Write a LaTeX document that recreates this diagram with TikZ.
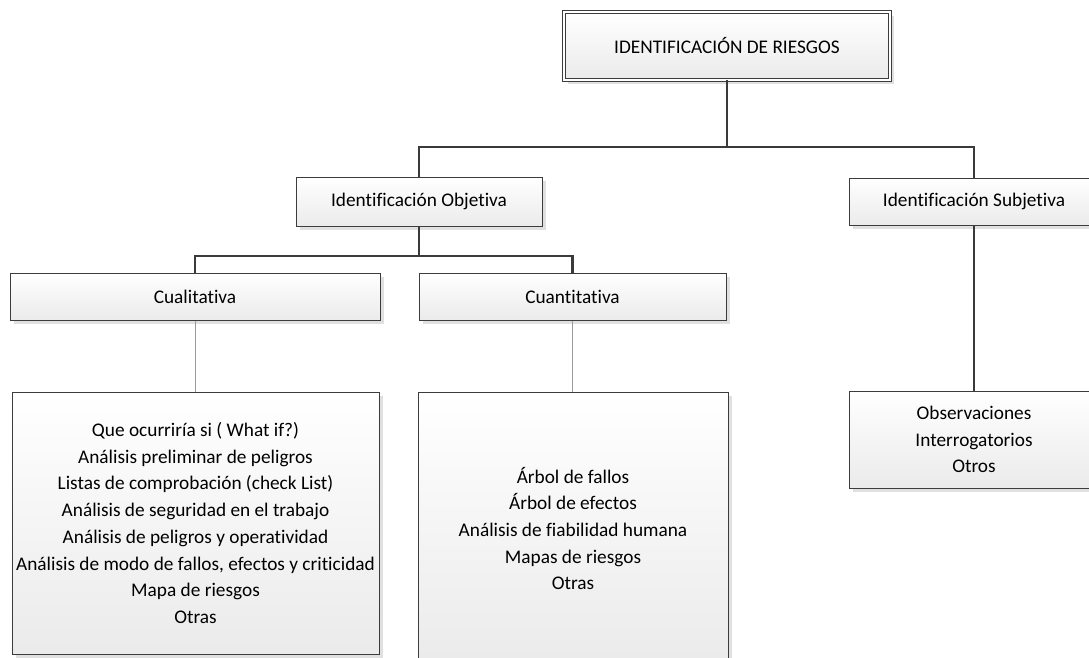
\documentclass[tikz,border=0pt]{standalone}
\usepackage{fontspec}
\setmainfont{Carlito}[Ligatures=NoCommon]
\usetikzlibrary{shadows}
\definecolor{bordc}{HTML}{3C3C3C}
\definecolor{connc}{HTML}{3A3A3A}
\definecolor{thinc}{HTML}{9A9A9A}
\begin{document}
\begin{tikzpicture}[x=1pt,y=1pt,
  box/.style={draw=bordc, line width=1pt, top color=white, bottom color=black!8,
    drop shadow={shadow xshift=4pt, shadow yshift=-4pt, fill=black!12, opacity=1},
    inner sep=0pt, align=center, font=\fontsize{19.3}{26.7}\selectfont},
  conn/.style={draw=connc, line width=2.3pt},
  thin/.style={draw=thinc, line width=1pt}]
\useasboundingbox (0,0) rectangle (1089,-657);
\clip (0,0) rectangle (1089,-657);
\fill[white] (0,0) rectangle (1089,-657);
% nodes
\node[box, double=white, double distance=2pt, line width=0.9pt, minimum width=326, minimum height=68] (root) at (727,-46) {IDENTIFICACIÓN DE RIESGOS};
\node[box, minimum width=246, minimum height=49] (obj) at (419,-201.5) {Identificación Objetiva};
\node[box, minimum width=250, minimum height=47] (subj) at (974,-201.5) {Identificación Subjetiva};
\node[box, minimum width=370, minimum height=47] (cual) at (195,-296.5) {Cualitativa};
\node[box, minimum width=307, minimum height=47] (cuan) at (572.5,-296.5) {Cuantitativa};
\node[box, minimum width=367, minimum height=262] (cualD) at (195.5,-523) {Que ocurriría si ( What if?)\\Análisis preliminar de peligros\\Listas de comprobación (check List)\\Análisis de seguridad en el trabajo\\Análisis de peligros y operatividad\\Análisis de modo de fallos, efectos y criticidad\\Mapa de riesgos\\Otras};
\node[box, minimum width=310, minimum height=273] (cuanD) at (573,-528.5) {Árbol de fallos\\Árbol de efectos\\Análisis de fiabilidad humana\\Mapas de riesgos\\Otras};
\node[box, minimum width=250, minimum height=97] (subjD) at (974,-439.5) {Observaciones\\Interrogatorios\\Otros};
% connectors
\coordinate (h1) at (727,-147);
\coordinate (h2) at (419,-256);
\draw[conn] (root.south) -- (h1);
\draw[conn] (obj.north) |- (h1) -| (subj.north);
\draw[conn] (obj.south) -- (h2);
\draw[conn] (cual.north) |- (h2) -| (cuan.north);
\draw[thin] (cual.south) -- (cual.south |- cualD.north);
\draw[thin] (cuan.south) -- (cuan.south |- cuanD.north);
\draw[conn] (subj.south) -- (subjD.north);
\end{tikzpicture}
\end{document}
